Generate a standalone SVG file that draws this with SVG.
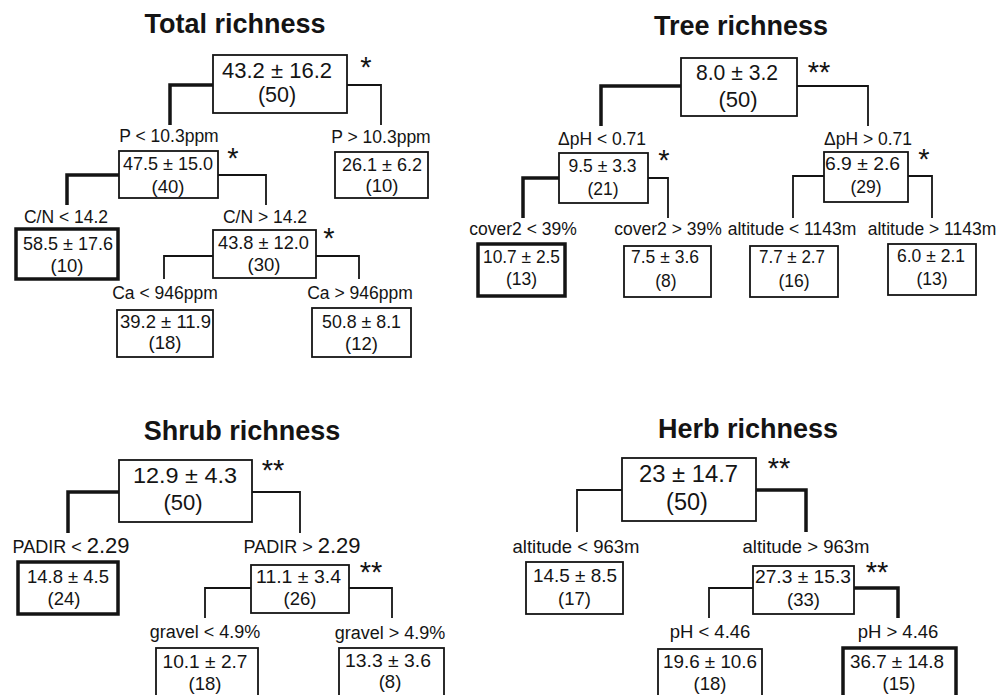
<svg xmlns="http://www.w3.org/2000/svg" width="997" height="695" viewBox="0 0 997 695">
<style>
text{font-family:"Liberation Sans",Arial,sans-serif;fill:#141414;text-anchor:middle}
.t{font-weight:bold;font-size:27px}
.v{font-size:18.5px}
.r{font-size:21.5px}
.l{font-size:17.5px}
.s{font-size:29px}
.b{fill:#fff;stroke:#141414;stroke-width:1.8}
.bk{fill:#fff;stroke:#141414;stroke-width:3.5}
.c{fill:none;stroke:#141414;stroke-width:1.8}
.ck{fill:none;stroke:#141414;stroke-width:3.5}
</style>
<rect width="997" height="695" fill="#fff"/>
<g id="titles">
<text class="t" x="235" y="33">Total richness</text>
<text class="t" x="741" y="35">Tree richness</text>
<text class="t" x="242" y="440">Shrub richness</text>
<text class="t" x="748" y="438">Herb richness</text>
</g>
<g id="connectors">
<path class="ck" d="M213,85H170V125"/>
<path class="c" d="M347,85H381V125"/>
<path class="ck" d="M119,175H67V205"/>
<path class="c" d="M218,175H266V205"/>
<path class="c" d="M213,256H164V279"/>
<path class="c" d="M316,256H359V279"/>
<path class="ck" d="M681,86H601V126"/>
<path class="c" d="M797,86H868V126"/>
<path class="ck" d="M559,178H523V218"/>
<path class="c" d="M648,178H668V218"/>
<path class="c" d="M824,176H793V218"/>
<path class="c" d="M908,176H932V218"/>
<path class="ck" d="M119,492H68V533"/>
<path class="c" d="M252,492H300V533"/>
<path class="c" d="M251,588H205V618"/>
<path class="c" d="M349,588H392V618"/>
<path class="c" d="M622,490H577V532"/>
<path class="ck" d="M756,490H806V532"/>
<path class="c" d="M753,588H709V618"/>
<path class="ck" d="M854,588H898V618"/>
</g>
<!-- Total richness -->
<g id="total-root">
<rect class="b" x="213" y="55" width="134" height="58"/>
<text class="r" x="277" y="78" textLength="110" lengthAdjust="spacingAndGlyphs">43.2 ± 16.2</text>
<text class="r" x="277" y="102">(50)</text>
<text class="s" x="366" y="77">*</text>
</g>
<g id="total-p-low">
<text class="l" x="169" y="142">P &lt; 10.3ppm</text>
<rect class="b" x="119" y="151" width="99" height="47"/>
<text class="v" x="168" y="170" textLength="90" lengthAdjust="spacingAndGlyphs">47.5 ± 15.0</text>
<text class="v" x="168" y="193">(40)</text>
<text class="s" x="233" y="168">*</text>
</g>
<g id="total-p-high">
<text class="l" x="381" y="143">P &gt; 10.3ppm</text>
<rect class="b" x="335" y="152" width="93" height="46"/>
<text class="v" x="382" y="171" textLength="80" lengthAdjust="spacingAndGlyphs">26.1 ± 6.2</text>
<text class="v" x="382" y="192">(10)</text>
</g>
<g id="total-cn-low">
<text class="l" x="66" y="223">C/N &lt; 14.2</text>
<rect class="bk" x="16" y="229" width="102" height="50"/>
<text class="v" x="68" y="250" textLength="90" lengthAdjust="spacingAndGlyphs">58.5 ± 17.6</text>
<text class="v" x="67" y="272">(10)</text>
</g>
<g id="total-cn-high">
<text class="l" x="265" y="223">C/N &gt; 14.2</text>
<rect class="b" x="213" y="230" width="103" height="48"/>
<text class="v" x="263.5" y="249" textLength="91" lengthAdjust="spacingAndGlyphs">43.8 ± 12.0</text>
<text class="v" x="264" y="271">(30)</text>
<text class="s" x="329" y="248">*</text>
</g>
<g id="total-ca-low">
<text class="l" x="165" y="299">Ca &lt; 946ppm</text>
<rect class="b" x="117" y="310" width="96" height="47"/>
<text class="v" x="165.5" y="328" textLength="91" lengthAdjust="spacingAndGlyphs">39.2 ± 11.9</text>
<text class="v" x="165" y="349">(18)</text>
</g>
<g id="total-ca-high">
<text class="l" x="360" y="299">Ca &gt; 946ppm</text>
<rect class="b" x="312" y="308" width="99" height="49"/>
<text class="v" x="361.5" y="328" textLength="79" lengthAdjust="spacingAndGlyphs">50.8 ± 8.1</text>
<text class="v" x="361.5" y="350">(12)</text>
</g>
<!-- Tree richness -->
<g id="tree-root">
<rect class="b" x="681" y="58" width="116" height="58"/>
<text class="r" x="737" y="80" textLength="82" lengthAdjust="spacingAndGlyphs" style="font-size:22px">8.0 ± 3.2</text>
<text class="r" x="738" y="107" style="font-size:22px">(50)</text>
<text class="s" x="819" y="82">**</text>
</g>
<g id="tree-dph-low">
<text class="l" x="602" y="145">ΔpH &lt; 0.71</text>
<rect class="b" x="559" y="153" width="89" height="50"/>
<text class="v" x="602.5" y="172" textLength="68" lengthAdjust="spacingAndGlyphs" style="font-size:18px">9.5 ± 3.3</text>
<text class="v" x="603" y="195" style="font-size:17.5px">(21)</text>
<text class="s" x="664" y="170">*</text>
</g>
<g id="tree-dph-high">
<text class="l" x="868" y="145">ΔpH &gt; 0.71</text>
<rect class="b" x="824" y="152" width="84" height="50"/>
<text class="v" x="862.5" y="170" textLength="75" lengthAdjust="spacingAndGlyphs" style="font-size:18.5px">6.9 ± 2.6</text>
<text class="v" x="866" y="193" style="font-size:17.5px">(29)</text>
<text class="s" x="924" y="169">*</text>
</g>
<g id="tree-cover-low">
<text class="l" x="523" y="235">cover2 &lt; 39%</text>
<rect class="bk" x="478" y="244" width="87" height="52"/>
<text class="v" x="521.5" y="263" textLength="77" lengthAdjust="spacingAndGlyphs" style="font-size:18.5px">10.7 ± 2.5</text>
<text class="v" x="521.5" y="285" style="font-size:17.5px">(13)</text>
</g>
<g id="tree-cover-high">
<text class="l" x="668" y="235">cover2 &gt; 39%</text>
<rect class="b" x="624" y="246" width="87" height="51"/>
<text class="v" x="665" y="263" textLength="68" lengthAdjust="spacingAndGlyphs" style="font-size:18px">7.5 ± 3.6</text>
<text class="v" x="666" y="287" style="font-size:17.5px">(8)</text>
</g>
<g id="tree-alt-low">
<text class="l" x="792" y="235">altitude &lt; 1143m</text>
<rect class="b" x="750" y="246" width="88" height="51"/>
<text class="v" x="792" y="263" textLength="66" lengthAdjust="spacingAndGlyphs" style="font-size:18px">7.7 ± 2.7</text>
<text class="v" x="794" y="287" style="font-size:17.5px">(16)</text>
</g>
<g id="tree-alt-high">
<text class="l" x="932" y="235">altitude &gt; 1143m</text>
<rect class="b" x="888" y="244" width="88" height="51"/>
<text class="v" x="931" y="262" textLength="68" lengthAdjust="spacingAndGlyphs" style="font-size:18px">6.0 ± 2.1</text>
<text class="v" x="932" y="285" style="font-size:17.5px">(13)</text>
</g>
<!-- Shrub richness -->
<g id="shrub-root">
<rect class="b" x="119" y="460" width="133" height="62"/>
<text class="r" x="185" y="483" textLength="104" lengthAdjust="spacingAndGlyphs" style="font-size:22.5px">12.9 ± 4.3</text>
<text class="r" x="183" y="510" style="font-size:22px">(50)</text>
<text class="s" x="273" y="480">**</text>
</g>
<g id="shrub-padir-low">
<text class="l" x="71" y="553" style="font-size:18px">PADIR &lt; <tspan style="font-size:22px">2.29</tspan></text>
<rect class="bk" x="18" y="562" width="100" height="52"/>
<text class="v" x="68" y="583" textLength="82" lengthAdjust="spacingAndGlyphs" style="font-size:19px">14.8 ± 4.5</text>
<text class="v" x="64" y="605" style="font-size:18.5px">(24)</text>
</g>
<g id="shrub-padir-high">
<text class="l" x="302" y="553" style="font-size:18px">PADIR &gt; <tspan style="font-size:22px">2.29</tspan></text>
<rect class="b" x="251" y="565" width="98" height="48"/>
<text class="v" x="298.5" y="583" textLength="85" lengthAdjust="spacingAndGlyphs" style="font-size:19px">11.1 ± 3.4</text>
<text class="v" x="300" y="605" style="font-size:18.5px">(26)</text>
<text class="s" x="371" y="582">**</text>
</g>
<g id="shrub-gravel-low">
<text class="l" x="205" y="638" style="font-size:18px">gravel &lt; 4.9%</text>
<rect class="b" x="156" y="648" width="102" height="60"/>
<text class="v" x="205" y="668" textLength="85" lengthAdjust="spacingAndGlyphs" style="font-size:19px">10.1 ± 2.7</text>
<text class="v" x="205" y="690" style="font-size:18.5px">(18)</text>
</g>
<g id="shrub-gravel-high">
<text class="l" x="390" y="639" style="font-size:18px">gravel &gt; 4.9%</text>
<rect class="b" x="339" y="648" width="105" height="60"/>
<text class="v" x="388" y="667" textLength="86" lengthAdjust="spacingAndGlyphs" style="font-size:19px">13.3 ± 3.6</text>
<text class="v" x="390" y="688" style="font-size:18.5px">(8)</text>
</g>
<!-- Herb richness -->
<g id="herb-root">
<rect class="b" x="622" y="458" width="134" height="63"/>
<text class="r" x="688.5" y="482" textLength="99" lengthAdjust="spacingAndGlyphs" style="font-size:24px">23 ± 14.7</text>
<text class="r" x="687" y="510" style="font-size:23.5px">(50)</text>
<text class="s" x="779" y="478">**</text>
</g>
<g id="herb-alt-low">
<text class="l" x="576" y="553" style="font-size:18.5px">altitude &lt; 963m</text>
<rect class="b" x="526" y="562" width="97" height="52"/>
<text class="v" x="575" y="582" textLength="84" lengthAdjust="spacingAndGlyphs" style="font-size:19px">14.5 ± 8.5</text>
<text class="v" x="574.5" y="605" style="font-size:18.5px">(17)</text>
</g>
<g id="herb-alt-high">
<text class="l" x="806" y="553" style="font-size:18.5px">altitude &gt; 963m</text>
<rect class="b" x="753" y="566" width="101" height="48"/>
<text class="v" x="803" y="583" textLength="96" lengthAdjust="spacingAndGlyphs" style="font-size:19px">27.3 ± 15.3</text>
<text class="v" x="803.5" y="606" style="font-size:18.5px">(33)</text>
<text class="s" x="877" y="582">**</text>
</g>
<g id="herb-ph-low">
<text class="l" x="710" y="638" style="font-size:18.5px">pH &lt; 4.46</text>
<rect class="b" x="658" y="649" width="104" height="60"/>
<text class="v" x="710" y="668" textLength="94" lengthAdjust="spacingAndGlyphs" style="font-size:19px">19.6 ± 10.6</text>
<text class="v" x="710" y="690" style="font-size:18.5px">(18)</text>
</g>
<g id="herb-ph-high">
<text class="l" x="898" y="638" style="font-size:18.5px">pH &gt; 4.46</text>
<rect class="bk" x="843" y="648" width="113" height="60"/>
<text class="v" x="897" y="668" textLength="94" lengthAdjust="spacingAndGlyphs" style="font-size:19px">36.7 ± 14.8</text>
<text class="v" x="899" y="690" style="font-size:18.5px">(15)</text>
</g>
</svg>
